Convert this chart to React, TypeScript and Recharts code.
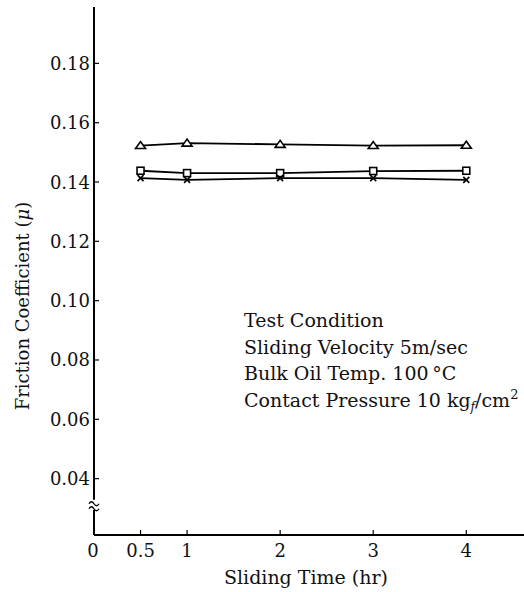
import React from "react";
import {
  LineChart,
  Line,
  XAxis,
  YAxis,
  ReferenceDot,
} from "recharts";

const times = [0.5, 1, 2, 3, 4];
const triangleSeries = [0.1523, 0.1531, 0.1527, 0.1523, 0.1524];
const squareSeries = [0.1438, 0.143, 0.143, 0.1437, 0.1438];
const crossSeries = [0.1413, 0.1407, 0.1413, 0.1413, 0.1407];

const xTicks = [0, 0.5, 1, 2, 3, 4];
const yTicks = [0.04, 0.06, 0.08, 0.1, 0.12, 0.14, 0.16, 0.18];

const conditionLines = [
  "Test Condition",
  "Sliding Velocity 5m/sec",
  "Bulk Oil Temp. 100\u2009\u00b0C",
];

const FONT = "'DejaVu Serif', 'Liberation Serif', serif";

const data = times.map((t, i) => ({
  t,
  tri: triangleSeries[i],
  sq: squareSeries[i],
  cr: crossSeries[i],
}));

const Triangle = (props: any) => {
  const { cx, cy } = props;
  if (cx == null || cy == null) return null;
  return (
    <polygon
      points={`${cx - 5},${cy + 3} ${cx + 5},${cy + 3} ${cx},${cy - 4}`}
      fill="#fff"
      stroke="#000"
      strokeWidth={1.6}
    />
  );
};

const Square = (props: any) => {
  const { cx, cy } = props;
  if (cx == null || cy == null) return null;
  return (
    <rect
      x={cx - 3.5}
      y={cy - 3.5}
      width={7}
      height={7}
      fill="#fff"
      stroke="#000"
      strokeWidth={1.6}
    />
  );
};

const Cross = (props: any) => {
  const { cx, cy } = props;
  if (cx == null || cy == null) return null;
  return (
    <path
      d={`M${cx - 3},${cy - 3}L${cx + 3},${cy + 3}M${cx + 3},${cy - 3}L${cx - 3},${cy + 3}`}
      stroke="#000"
      strokeWidth={1.6}
    />
  );
};

const YTick = (props: any) => {
  const { x, y, payload } = props;
  return (
    <g>
      <line x1={x + 4} y1={y} x2={x + 9} y2={y} stroke="#000" strokeWidth={1.2} />
      <text
        x={x}
        y={y}
        textAnchor="end"
        dominantBaseline="central"
        fontFamily={FONT}
        fontSize={18}
        fill="#111"
      >
        {payload.value.toFixed(2)}
      </text>
    </g>
  );
};

const XTick = (props: any) => {
  const { x, y, payload } = props;
  return (
    <g>
      {payload.value !== 0 && (
        <line x1={x} y1={y - 4} x2={x} y2={y - 9} stroke="#000" strokeWidth={1.2} />
      )}
      <text
        x={payload.value === 0 ? x - 1 : x}
        y={y + 18}
        textAnchor="middle"
        fontFamily={FONT}
        fontSize={18}
        fill="#111"
      >
        {payload.value}
      </text>
    </g>
  );
};

const AxisBreak = (props: any) => {
  const { cx, cy } = props;
  if (cx == null || cy == null) return null;
  return (
    <g>
      <rect x={cx - 2} y={cy - 5} width={4} height={10} fill="#fff" />
      <path
        d={`M${cx - 5},${cy - 1} q2.5,-4 5,0 t5,0 M${cx - 5},${cy + 4} q2.5,-4 5,0 t5,0`}
        fill="none"
        stroke="#000"
        strokeWidth={1.3}
      />
    </g>
  );
};

export default function App() {
  return (
    <div
      style={{
        position: "absolute",
        left: 0,
        top: 0,
        width: 524,
        height: 592,
        background: "#fff",
        fontFamily: FONT,
      }}
    >
      <LineChart
        width={524}
        height={592}
        data={data}
        margin={{ top: 7, right: 0, bottom: 0, left: 0 }}
      >
        <XAxis
          dataKey="t"
          type="number"
          domain={[0, 4.62]}
          ticks={xTicks}
          allowDataOverflow
          axisLine={{ stroke: "#000", strokeWidth: 2 }}
          tickLine={false}
          tickSize={0}
          tickMargin={4}
          tick={<XTick />}
          height={57}
          interval={0}
        />
        <XAxis
          xAxisId="top"
          orientation="top"
          dataKey="t"
          type="number"
          domain={[0, 4.62]}
          axisLine={{ stroke: "#000", strokeWidth: 2 }}
          tick={false}
          tickLine={false}
          height={0}
        />
        <YAxis
          type="number"
          domain={[0.021, 0.199]}
          ticks={yTicks}
          allowDataOverflow
          axisLine={{ stroke: "#000", strokeWidth: 2 }}
          tickLine={false}
          tickSize={0}
          tickMargin={4}
          tick={<YTick />}
          width={94}
          interval={0}
        />
        <ReferenceDot
          x={0}
          y={0.0312}
          ifOverflow="visible"
          shape={<AxisBreak />}
        />
        <Line
          dataKey="tri"
          stroke="#000"
          strokeWidth={1.8}
          dot={<Triangle />}
          isAnimationActive={false}
        />
        <Line
          dataKey="sq"
          stroke="#000"
          strokeWidth={1.8}
          dot={<Square />}
          isAnimationActive={false}
        />
        <Line
          dataKey="cr"
          stroke="#000"
          strokeWidth={1.8}
          dot={<Cross />}
          isAnimationActive={false}
        />
      </LineChart>

      <div
        style={{
          position: "absolute",
          left: 22,
          top: 306,
          transform: "translate(-50%, -50%) rotate(-90deg)",
          whiteSpace: "nowrap",
          fontSize: 18,
          color: "#111",
        }}
      >
        Friction Coefficient (<i>μ</i>)
      </div>

      <div
        style={{
          position: "absolute",
          left: 306,
          top: 577,
          transform: "translate(-50%, -50%)",
          whiteSpace: "nowrap",
          fontSize: 19,
          color: "#111",
        }}
      >
        Sliding Time (hr)
      </div>

      <div
        style={{
          position: "absolute",
          left: 244,
          top: 307,
          fontSize: 19,
          lineHeight: "26.5px",
          color: "#111",
          whiteSpace: "nowrap",
        }}
      >
        {conditionLines.map((l) => (
          <div key={l} style={{ height: 26.5 }}>
            {l}
          </div>
        ))}
        <div style={{ height: 26.5 }}>
          Contact Pressure 10 kg
          <span
            style={{
              fontSize: 12,
              fontStyle: "italic",
              position: "relative",
              top: 4,
            }}
          >
            f
          </span>
          /cm
          <span style={{ fontSize: 13, position: "relative", top: -8 }}>2</span>
        </div>
      </div>
    </div>
  );
}
